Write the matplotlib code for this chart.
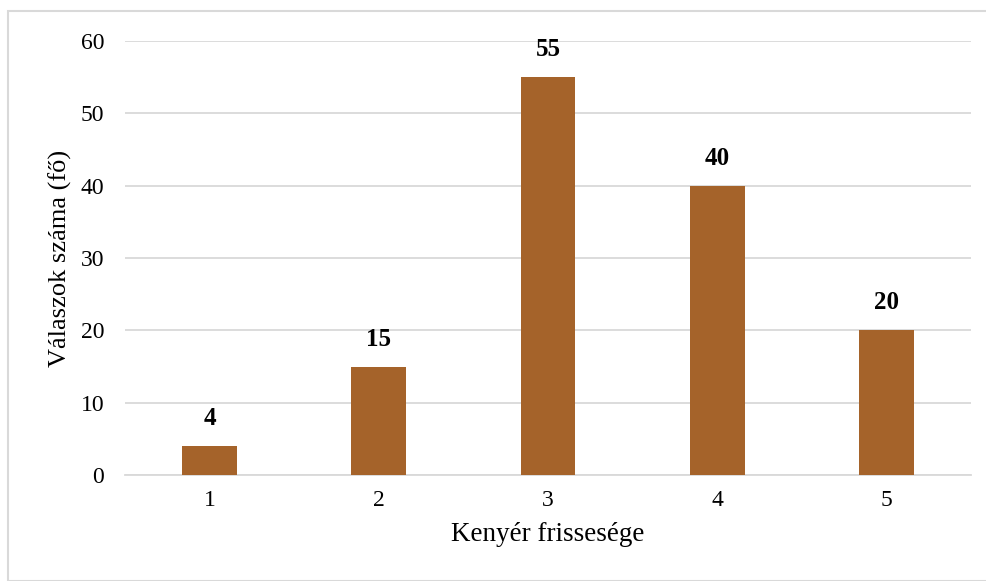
import matplotlib
matplotlib.use("Agg")
import matplotlib.pyplot as plt
from matplotlib.patches import Rectangle

categories = ["1", "2", "3", "4", "5"]
values = [4, 15, 55, 40, 20]
yticks = [0, 10, 20, 30, 40, 50, 60]

plt.rcParams["font.family"] = ["Liberation Serif", "DejaVu Serif"]

fig = plt.figure(figsize=(9.87, 5.81), dpi=100)
ax = fig.add_axes([125 / 987, 106 / 581, 846 / 987, 434 / 581])

# light frame around the whole chart
fig.patches.append(Rectangle((8 / 987, 0), 1.1, 570 / 581, transform=fig.transFigure,
                             fill=False, edgecolor="#d9d9d9", linewidth=1.5))

x = range(len(categories))
bars = ax.bar(x, values, width=0.325, color="#A5632A", zorder=3)

for b, v in zip(bars, values):
    ax.text(b.get_x() + b.get_width() / 2, v + 2.2, str(v), ha="center", va="bottom",
            fontsize=18, fontweight="bold")

ax.set_xlim(-0.5, len(categories) - 0.5)
ax.set_ylim(0, 60)
ax.set_yticks(yticks)
ax.set_xticks(list(x))
ax.set_xticklabels(categories)
ax.grid(axis="y", color="#d9d9d9", linewidth=1.3, zorder=0)
for s in ["top", "right", "left"]:
    ax.spines[s].set_visible(False)
ax.spines["bottom"].set_color("#d9d9d9")
ax.spines["bottom"].set_linewidth(1.3)
ax.tick_params(axis="both", length=0, labelsize=17, pad=11)
ax.tick_params(axis="y", pad=15)

ax.set_xlabel("Kenyér frissesége", fontsize=19.5, labelpad=8)
ax.set_ylabel("Válaszok száma (fő)", fontsize=19, labelpad=6)

fig.savefig("out.png", dpi=100)
